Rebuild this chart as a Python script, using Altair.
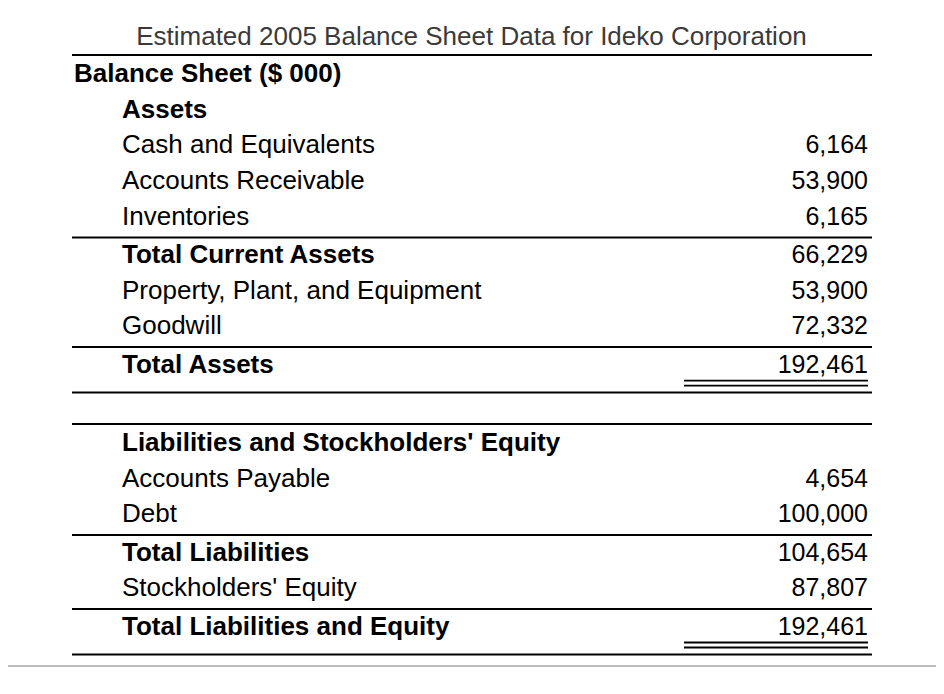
import altair as alt
import pandas as pd

# ---------------- data ----------------
title_text = "Estimated 2005 Balance Sheet Data for Ideko Corporation"
header_text = "Balance Sheet ($ 000)"
labels = [
    "Assets",
    "Cash and Equivalents",
    "Accounts Receivable",
    "Inventories",
    "Total Current Assets",
    "Property, Plant, and Equipment",
    "Goodwill",
    "Total Assets",
    "Liabilities and Stockholders' Equity",
    "Accounts Payable",
    "Debt",
    "Total Liabilities",
    "Stockholders' Equity",
    "Total Liabilities and Equity",
]
values = [None, 6164, 53900, 6165, 66229, 53900, 72332, 192461,
          None, 4654, 100000, 104654, 87807, 192461]
kinds = ["section", "item", "item", "item", "total", "item", "item", "grand",
         "section", "item", "item", "total", "item", "grand"]

# ---------------- layout (page pixel units) ----------------
FONT = "Liberation Sans"
FS = 26
FS_VAL = 25
LEFT, RIGHT = 72, 872          # full-width rules
HEADER_X, LABEL_X, VALUE_X = 74, 122, 868
DBL_L, DBL_R = 684, 868
STEP = 35.7

texts = []      # label text rows
rules = []      # rule rows
dbl = []        # double underline rows

cur = 74.0
texts.append(dict(x=HEADER_X, y=cur, label=header_text, bold=True, value=None))
rules.append(dict(x=LEFT, x2=RIGHT, y=cur - 19))
first_section = True
for lab, val, kind in zip(labels, values, kinds):
    cur += STEP
    if kind == "section":
        if not first_section:
            cur += 42.7
            rules.append(dict(x=LEFT, x2=RIGHT, y=cur - 19))
        first_section = False
    if kind in ("total", "grand"):
        cur += 2.5
        rules.append(dict(x=LEFT, x2=RIGHT, y=cur - 17.5))
    texts.append(dict(x=LABEL_X, y=cur, label=lab,
                      bold=kind != "item", value=val))
    if kind == "grand":
        dbl.append(dict(x=DBL_L, x2=DBL_R, y=cur + 16))
        dbl.append(dict(x=DBL_L, x2=DBL_R, y=cur + 21))
        rules.append(dict(x=LEFT, x2=RIGHT, y=cur + 28))

tdf = pd.DataFrame(texts)
vdf = tdf[tdf["value"].notna()].copy()
vdf["x"] = VALUE_X
rdf = pd.DataFrame(rules)
ddf = pd.DataFrame(dbl)
title_df = pd.DataFrame([dict(x=471.5, y=37, label=title_text)])
gray_df = pd.DataFrame([dict(x=8, x2=936, y=666)])

xs = alt.Scale(domain=[8, 936], nice=False, zero=False)
ys = alt.Scale(domain=[8, 686], nice=False, zero=False, reverse=True)
X = alt.X("x:Q", scale=xs, axis=None)
Y = alt.Y("y:Q", scale=ys, axis=None)

title_layer = alt.Chart(title_df).mark_text(
    font=FONT, fontSize=FS, color="#3a3a3a", align="center", baseline="middle"
).encode(x=X, y=Y, text="label:N")

bold_labels = alt.Chart(tdf[tdf["bold"]]).mark_text(
    font=FONT, fontSize=FS, fontWeight="bold", color="black",
    align="left", baseline="middle"
).encode(x=X, y=Y, text="label:N")

norm_labels = alt.Chart(tdf[~tdf["bold"]]).mark_text(
    font=FONT, fontSize=FS, color="black", align="left", baseline="middle"
).encode(x=X, y=Y, text="label:N")

value_layer = alt.Chart(vdf).mark_text(
    font=FONT, fontSize=FS_VAL, color="black", align="right", baseline="middle"
).encode(x=X, y=Y, text=alt.Text("value:Q", format=","))

rule_layer = alt.Chart(rdf).mark_rule(color="black", strokeWidth=2).encode(
    x=X, x2="x2:Q", y=Y)
dbl_layer = alt.Chart(ddf).mark_rule(color="black", strokeWidth=1.8).encode(
    x=X, x2="x2:Q", y=Y)
gray_layer = alt.Chart(gray_df).mark_rule(color="#bdbdbd", strokeWidth=2).encode(
    x=X, x2="x2:Q", y=Y)

chart = alt.layer(
    gray_layer, rule_layer, dbl_layer, title_layer,
    bold_labels, norm_labels, value_layer
).properties(
    width=928, height=678, padding=0, autosize="none", background="white"
).configure_view(stroke=None)

chart.save("out.html", embed_options={"renderer": "svg", "actions": False})
